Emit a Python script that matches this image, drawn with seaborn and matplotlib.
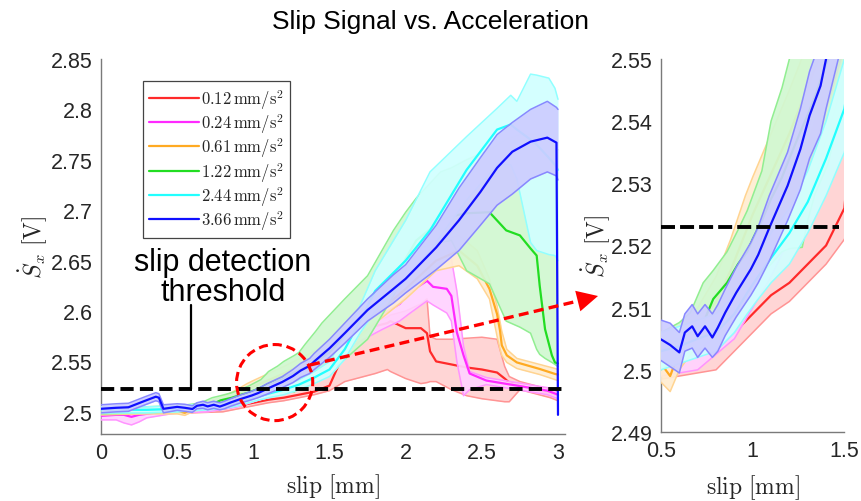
import numpy as np
import pandas as pd
import matplotlib
matplotlib.use("Agg")
import matplotlib.pyplot as plt
from matplotlib.patches import Ellipse, FancyArrowPatch
from matplotlib.lines import Line2D
from matplotlib.colors import to_rgb
import seaborn as sns

# ---------------- data ----------------
accel_labels = [r"$0.12\,\mathrm{mm/s^2}$", r"$0.24\,\mathrm{mm/s^2}$", r"$0.61\,\mathrm{mm/s^2}$",
                r"$1.22\,\mathrm{mm/s^2}$", r"$2.44\,\mathrm{mm/s^2}$", r"$3.66\,\mathrm{mm/s^2}$"]
line_colors = ["#ff2a2a", "#ff2aff", "#ffaa22", "#22dd22", "#22ffff", "#1010ff"]

red_x = [0, 0.2, 0.4, 0.6, 0.8, 0.9, 1.0, 1.1, 1.2, 1.3, 1.4, 1.5, 1.6, 1.7, 1.8, 1.88, 1.9, 2.0, 2.1, 2.14,
         2.16, 2.2, 2.3, 2.4, 2.5, 2.6, 2.65, 2.68, 2.75, 2.85, 2.95, 3.0]
red_mean = [2.500, 2.500, 2.501, 2.502, 2.503, 2.506, 2.509, 2.512, 2.514, 2.517, 2.520, 2.526, 2.560, 2.575,
            2.585, 2.588, 2.590, 2.583, 2.583, 2.578, 2.560, 2.550, 2.547, 2.544, 2.542, 2.539, 2.533, 2.529,
            2.526, 2.522, 2.518, 2.516]
red_hi = [2.503, 2.503, 2.504, 2.505, 2.507, 2.510, 2.513, 2.517, 2.521, 2.526, 2.534, 2.542, 2.570, 2.580,
          2.590, 2.594, 2.596, 2.600, 2.607, 2.612, 2.575, 2.572, 2.572, 2.573, 2.574, 2.572, 2.545, 2.535,
          2.530, 2.526, 2.522, 2.520]
red_lo = [2.497, 2.497, 2.498, 2.499, 2.500, 2.503, 2.506, 2.509, 2.511, 2.514, 2.517, 2.521, 2.530, 2.534,
          2.538, 2.542, 2.540, 2.533, 2.528, 2.529, 2.530, 2.530, 2.522, 2.516, 2.513, 2.511, 2.510, 2.510,
          2.522, 2.518, 2.514, 2.511]

pink_x = [0, 0.1, 0.15, 0.2, 0.25, 0.3, 0.5, 0.7, 0.9, 1.1, 1.3, 1.5, 1.7, 1.85, 1.96, 2.03, 2.14, 2.18, 2.27,
          2.30, 2.336, 2.38, 2.42, 2.53, 2.73, 2.93, 3.0]
pink_mean = [2.496, 2.497, 2.497, 2.495, 2.497, 2.498, 2.502, 2.503, 2.508, 2.519, 2.532, 2.552, 2.577, 2.597,
             2.607, 2.619, 2.630, 2.624, 2.622, 2.615, 2.579, 2.556, 2.538, 2.531, 2.526, 2.521, 2.517]
pink_hi = [2.499, 2.500, 2.500, 2.499, 2.500, 2.501, 2.506, 2.506, 2.511, 2.522, 2.536, 2.557, 2.584, 2.610,
           2.640, 2.652, 2.658, 2.662, 2.665, 2.652, 2.620, 2.565, 2.540, 2.534, 2.529, 2.524, 2.520]
pink_lo = [2.492, 2.492, 2.489, 2.487, 2.490, 2.494, 2.499, 2.500, 2.505, 2.515, 2.527, 2.547, 2.570, 2.582,
           2.590, 2.598, 2.610, 2.606, 2.598, 2.590, 2.550, 2.516, 2.522, 2.527, 2.522, 2.517, 2.513]

orange_x = [0, 0.3, 0.5, 0.55, 0.6, 0.7, 0.8, 0.88, 0.96, 1.0, 1.2, 1.4, 1.6, 1.8, 2.0, 2.2, 2.35, 2.47, 2.55,
            2.6, 2.62, 2.631, 2.664, 2.73, 2.88, 2.98, 3.0]
orange_mean = [2.500, 2.501, 2.501, 2.499, 2.503, 2.507, 2.511, 2.516, 2.522, 2.525, 2.538, 2.553, 2.572, 2.596,
               2.622, 2.650, 2.660, 2.645, 2.622, 2.597, 2.580, 2.566, 2.556, 2.549, 2.5425, 2.5376, 2.537]
orange_hi = [2.503, 2.504, 2.504, 2.503, 2.506, 2.510, 2.515, 2.521, 2.528, 2.531, 2.545, 2.560, 2.580, 2.605,
             2.632, 2.668, 2.675, 2.660, 2.632, 2.605, 2.589, 2.580, 2.562, 2.553, 2.547, 2.543, 2.542]
orange_lo = [2.497, 2.498, 2.498, 2.4965, 2.500, 2.504, 2.507, 2.511, 2.516, 2.519, 2.531, 2.546, 2.564, 2.588,
             2.612, 2.640, 2.645, 2.632, 2.612, 2.575, 2.562, 2.556, 2.549, 2.543, 2.537, 2.532, 2.531]

green_x = [0, 0.3, 0.5, 0.6, 0.66, 0.73, 0.785, 0.86, 0.92, 0.97, 1.0, 1.05, 1.1, 1.16, 1.2, 1.27, 1.3, 1.34,
           1.41, 1.45, 1.5, 1.6, 1.75, 1.92, 2.0, 2.07, 2.23, 2.3, 2.4, 2.55, 2.66, 2.75, 2.82, 2.86, 2.88,
           2.915, 2.96, 2.98, 3.0]
green_mean = [2.501, 2.502, 2.503, 2.505, 2.506, 2.5075, 2.5114, 2.514, 2.517, 2.519, 2.521, 2.524, 2.5275,
              2.531, 2.534, 2.539, 2.541, 2.544, 2.550, 2.554, 2.559, 2.575, 2.600, 2.630, 2.652, 2.670, 2.690,
              2.694, 2.697, 2.698, 2.680, 2.675, 2.662, 2.655, 2.625, 2.582, 2.556, 2.549, 2.548]
green_hi = [2.504, 2.505, 2.506, 2.5076, 2.5092, 2.514, 2.516, 2.519, 2.5225, 2.5256, 2.528, 2.532, 2.540,
            2.5454, 2.550, 2.556, 2.559, 2.567, 2.580, 2.588, 2.596, 2.612, 2.635, 2.680, 2.698, 2.712, 2.738,
            2.742, 2.750, 2.760, 2.770, 2.775, 2.775, 2.775, 2.775, 2.770, 2.765, 2.760, 2.760]
green_lo = [2.498, 2.499, 2.500, 2.502, 2.504, 2.5055, 2.5065, 2.508, 2.511, 2.513, 2.514, 2.5155, 2.517,
            2.519, 2.5195, 2.5197, 2.524, 2.5283, 2.533, 2.5379, 2.5422, 2.552, 2.572, 2.615, 2.640, 2.662,
            2.668, 2.670, 2.640, 2.627, 2.590, 2.584, 2.578, 2.562, 2.557, 2.553, 2.549, 2.547, 2.545]

cyan_x = [0, 0.3, 0.5, 0.6, 0.7, 0.8, 0.9, 0.97, 1.02, 1.1, 1.2, 1.3, 1.4, 1.5, 1.6, 1.7, 1.8, 2.0, 2.16, 2.4,
          2.6, 2.69, 2.73, 2.82, 2.86, 2.94, 2.98, 3.0]
cyan_mean = [2.502, 2.502, 2.503, 2.5038, 2.505, 2.506, 2.509, 2.5124, 2.5146, 2.518, 2.522, 2.527, 2.534,
             2.542, 2.562, 2.590, 2.620, 2.650, 2.680, 2.740, 2.780, 2.785, 2.780, 2.770, 2.765, 2.752, 2.745,
             2.740]
cyan_hi = [2.505, 2.505, 2.506, 2.507, 2.508, 2.509, 2.512, 2.515, 2.518, 2.522, 2.526, 2.532, 2.540, 2.550,
           2.575, 2.605, 2.640, 2.690, 2.738, 2.773, 2.801, 2.814, 2.808, 2.835, 2.834, 2.831, 2.821, 2.810]
cyan_lo = [2.499, 2.499, 2.500, 2.501, 2.502, 2.503, 2.506, 2.509, 2.511, 2.514, 2.517, 2.522, 2.528, 2.535,
           2.552, 2.578, 2.600, 2.630, 2.660, 2.710, 2.745, 2.745, 2.731, 2.668, 2.660, 2.656, 2.655, 2.650]

blue_x = [0, 0.1, 0.18, 0.29, 0.36, 0.38, 0.41, 0.5, 0.55, 0.6, 0.63, 0.67, 0.7, 0.74, 0.78, 0.81, 0.85, 0.91,
          0.99, 1.03, 1.09, 1.19, 1.26, 1.31, 1.37, 1.4, 1.5, 1.6, 1.75, 1.92, 2.0, 2.2, 2.35, 2.49, 2.6, 2.7,
          2.82, 2.93, 2.99, 3.0]
blue_mean = [2.503, 2.504, 2.5045, 2.511, 2.515, 2.514, 2.503, 2.5049, 2.504, 2.5028, 2.506, 2.507, 2.5054,
             2.507, 2.5052, 2.5068, 2.5092, 2.5124, 2.5162, 2.5185, 2.5228, 2.5296, 2.5355, 2.5409, 2.5457,
             2.550, 2.563, 2.578, 2.601, 2.622, 2.632, 2.663, 2.690, 2.718, 2.742, 2.758, 2.768, 2.772, 2.767,
             2.497]
blue_hi = [2.507, 2.508, 2.5085, 2.515, 2.519, 2.518, 2.507, 2.508, 2.5075, 2.506, 2.509, 2.5105, 2.509,
           2.5105, 2.509, 2.5105, 2.513, 2.5165, 2.5205, 2.523, 2.528, 2.535, 2.542, 2.548, 2.553, 2.558, 2.572,
           2.588, 2.612, 2.636, 2.646, 2.685, 2.722, 2.752, 2.775, 2.787, 2.800, 2.808, 2.802, 2.800]
blue_lo = [2.499, 2.500, 2.5005, 2.507, 2.511, 2.510, 2.499, 2.5015, 2.5005, 2.4995, 2.503, 2.5035, 2.502,
           2.5035, 2.502, 2.503, 2.5055, 2.5085, 2.512, 2.514, 2.5175, 2.524, 2.529, 2.534, 2.538, 2.542,
           2.554, 2.568, 2.590, 2.608, 2.618, 2.641, 2.660, 2.685, 2.705, 2.716, 2.731, 2.738, 2.734, 2.730]

series = [
    (red_x, red_mean, red_lo, red_hi),
    (pink_x, pink_mean, pink_lo, pink_hi),
    (orange_x, orange_mean, orange_lo, orange_hi),
    (green_x, green_mean, green_lo, green_hi),
    (cyan_x, cyan_mean, cyan_lo, cyan_hi),
    (blue_x, blue_mean, blue_lo, blue_hi),
]

threshold = 2.523

left_xticks = [0, 0.5, 1, 1.5, 2, 2.5, 3]
left_xticklabels = ["0", "0.5", "1", "1.5", "2", "2.5", "3"]
left_yticks = [2.5, 2.55, 2.6, 2.65, 2.7, 2.75, 2.8, 2.85]
left_yticklabels = ["2.5", "2.55", "2.6", "2.65", "2.7", "2.75", "2.8", "2.85"]
right_xticks = [0.5, 1, 1.5]
right_xticklabels = ["0.5", "1", "1.5"]
right_yticks = [2.49, 2.5, 2.51, 2.52, 2.53, 2.54, 2.55]
right_yticklabels = ["2.49", "2.5", "2.51", "2.52", "2.53", "2.54", "2.55"]

# ---------------- style ----------------
sns.set_theme(style="white")
plt.rcParams["font.family"] = ["Liberation Sans", "DejaVu Sans"]
plt.rcParams["mathtext.fontset"] = "cm"

W, H = 861, 502
fig = plt.figure(figsize=(W / 100, H / 100), dpi=100)
ax_main = fig.add_axes([101 / W, 1 - 435 / H, 464 / W, 375 / H])
ax_zoom = fig.add_axes([661 / W, 1 - 433 / H, 183.4 / W, 373 / H])

axis_grey = "#7a7a7a"
text_dark = "#262626"


def tint(color, amount):
    r, g, b = to_rgb(color)
    return (1 - amount * (1 - r), 1 - amount * (1 - g), 1 - amount * (1 - b))


def draw_series(ax, with_labels):
    for i, (xs, m, lo, hi) in enumerate(series):
        c = line_colors[i]
        z = 2 + i
        ax.fill_between(xs, lo, hi, color=tint(c, 0.21), alpha=0.93, lw=0, zorder=z)
        for edge in (lo, hi):
            sns.lineplot(x=xs, y=edge, ax=ax, color=tint(c, 0.5), lw=1.1,
                         estimator=None, sort=False, zorder=z + 0.1)
        sns.lineplot(x=xs, y=m, ax=ax, color=c, lw=1.6, estimator=None, sort=False,
                     label=accel_labels[i] if with_labels else None, zorder=z + 0.2)


def style_axes(ax, xticks, xlabels, yticks, ylabels):
    for side in ("top", "right"):
        ax.spines[side].set_visible(False)
    for side in ("left", "bottom"):
        ax.spines[side].set_color(axis_grey)
        ax.spines[side].set_linewidth(1.0)
    ax.set_xticks(xticks)
    ax.set_xticklabels(xlabels)
    ax.set_yticks(yticks)
    ax.set_yticklabels(ylabels)
    ax.tick_params(direction="in", length=5, width=1.0, color=axis_grey,
                   labelcolor=text_dark, labelsize=15.5, pad=6)
    ax.set_xlabel(r"$\mathrm{slip\ [mm]}$", fontsize=17, color=text_dark, va="center")
    ax.set_ylabel(r"$\dot{S}_x\ [\mathrm{V}]$", fontsize=17, color=text_dark, va="center")
    ax.grid(False)


# ---- main panel ----
draw_series(ax_main, True)
ax_main.plot([0, 3.046], [threshold, threshold], color="black", lw=2.8,
             dashes=(3.4, 1.6), zorder=20)
ax_main.plot([0.59, 0.59], [2.606, threshold], color="black", lw=1.6, zorder=20)
ax_main.text(0.80, 2.634, "slip detection\nthreshold", ha="center", va="center",
             fontsize=22, linespacing=0.98, color="black", zorder=21)
ax_main.add_patch(Ellipse((1.14, 2.529), 0.5, 0.0755, fill=False, edgecolor="red",
                          lw=2.2, linestyle=(0, (3, 1.6)), zorder=22))
ax_main.set_xlim(0, 3.046)
ax_main.set_ylim(2.478, 2.85)
style_axes(ax_main, left_xticks, left_xticklabels, left_yticks, left_yticklabels)
ax_main.yaxis.set_label_coords(-(101 - 33) / 464, 0.5)
ax_main.xaxis.set_label_coords(0.5, -(487 - 435) / 375)

leg = ax_main.legend(loc="upper left", bbox_to_anchor=((143 - 101) / 464, (435 - 82) / 375),
                     fontsize=12, frameon=True, fancybox=False, framealpha=1,
                     edgecolor="#444444", handlelength=3.0, handletextpad=0.15,
                     borderpad=0.35, labelspacing=0.02, borderaxespad=0)
leg.get_frame().set_linewidth(0.9)
for h in leg.get_lines():
    h.set_linewidth(1.6)
    h.set_alpha(1)
leg.set_zorder(30)

# ---- zoom panel ----
draw_series(ax_zoom, False)
ax_zoom.plot([0.5, 1.47], [threshold, threshold], color="black", lw=2.8,
             dashes=(3.6, 1.3), zorder=20)
ax_zoom.set_xlim(0.5, 1.5)
ax_zoom.set_ylim(2.49, 2.55)
style_axes(ax_zoom, right_xticks, right_xticklabels, right_yticks, right_yticklabels)
ax_zoom.yaxis.set_label_coords(-(661 - 596) / 183.4, 0.5)
ax_zoom.xaxis.set_label_coords(0.5, -(488 - 433) / 373)

# ---- pointer from the circled region to the zoom panel ----
start = (310 / W, 1 - 366 / H)
base = (578 / W, 1 - 302 / H)
tip = (598 / W, 1 - 297 / H)
fig.add_artist(Line2D([start[0], base[0]], [start[1], base[1]], transform=fig.transFigure,
                      color="red", lw=2.4, dashes=(3, 1.6), zorder=40))
fig.add_artist(FancyArrowPatch(
    base, tip, transform=fig.transFigure, arrowstyle="-|>,head_length=0.75,head_width=0.38",
    mutation_scale=20, color="red", lw=0, shrinkA=0, shrinkB=0, zorder=41))

fig.text(0.5, 1 - 22 / H, "Slip Signal vs. Acceleration", ha="center", va="center",
         fontsize=19, color="black")

fig.savefig("out.png", dpi=100, facecolor="white")
